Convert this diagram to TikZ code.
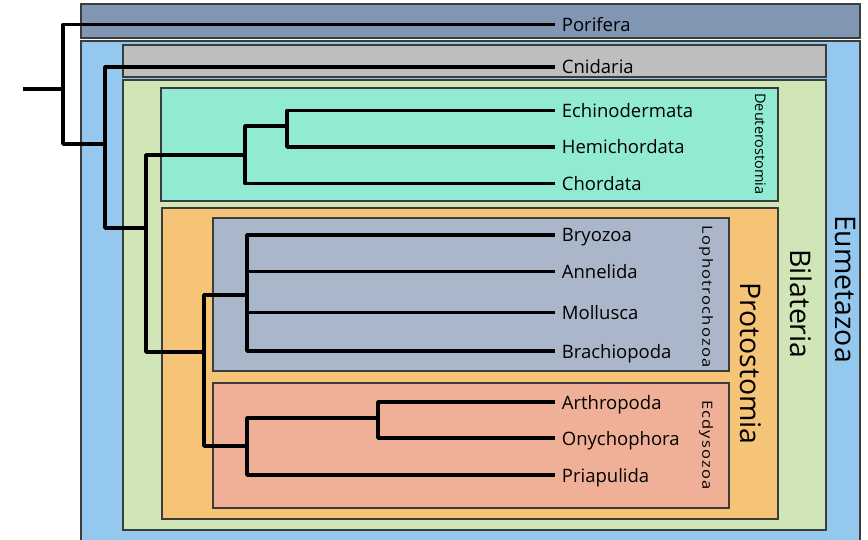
\documentclass[tikz,border=0pt]{standalone}
\usepackage{fontspec}
\setmainfont{Open Sans}
\newdimen\spreadamount \spreadamount=1pt
\makeatletter
\def\spreadword#1{\spreadword@i#1\@nil}
\def\spreadword@i#1{\ifx#1\@nil\unkern\else#1\kern\spreadamount\expandafter\spreadword@i\fi}
\makeatother
\definecolor{cPor}{HTML}{8096B2}
\definecolor{cEum}{HTML}{95C8EE}
\definecolor{cCni}{HTML}{BEBEBE}
\definecolor{cBil}{HTML}{D1E6B6}
\definecolor{cDeu}{HTML}{91EBD3}
\definecolor{cPro}{HTML}{F5C476}
\definecolor{cLop}{HTML}{AAB6CA}
\definecolor{cEcd}{HTML}{F0B097}
\definecolor{cEdge}{HTML}{3C3C3C}
\tikzset{
  box/.style={draw=cEdge, line width=1.4pt},
  branch/.style={draw=black, line width=3.4pt, line join=round},
  leaf/.style={anchor=west, font=\fontsize{18.5}{22}\selectfont, inner xsep=6.7pt, inner ysep=0pt, text height=14pt, text depth=0pt},
  grpsmall/.style={anchor=base, rotate=-90, inner sep=0pt, font=\fontsize{14}{16}\selectfont},
  grpbig/.style={anchor=base, rotate=-90, inner sep=0pt, font=\fontsize{28.4}{32}\selectfont},
}
\begin{document}
\begin{tikzpicture}[x=1pt,y=-1pt]
\useasboundingbox (0,0) rectangle (868,540);
% clade boxes
\draw[box, fill=cPor] (81,4) rectangle (860,38);
\draw[box, fill=cEum] (81,41) rectangle (860,546);
\draw[box, fill=cCni] (123,45) rectangle (826,77);
\draw[box, fill=cBil] (123,80) rectangle (826,530);
\draw[box, fill=cDeu] (161,88) rectangle (778,201);
\draw[box, fill=cPro] (162,208) rectangle (778,519);
\draw[box, fill=cLop] (213,218) rectangle (729,371);
\draw[box, fill=cEcd] (213,383) rectangle (729,508);
% leaves
\node[leaf] (por) at (555,24.5) {Porifera};
\node[leaf] (cni) at (555,67) {Cnidaria};
\node[leaf] (ech) at (555,110.5) {Echinodermata};
\node[leaf] (hem) at (555,147) {Hemichordata};
\node[leaf] (cho) at (555,183.5) {Chordata};
\node[leaf] (bry) at (555,235) {Bryozoa};
\node[leaf] (ann) at (555,271.5) {Annelida};
\node[leaf] (mol) at (555,312.5) {Mollusca};
\node[leaf] (bra) at (555,351) {Brachiopoda};
\node[leaf] (art) at (555,402) {Arthropoda};
\node[leaf] (ony) at (555,438) {Onychophora};
\node[leaf] (pri) at (555,475) {Priapulida};
% internal nodes
\coordinate (root) at (23,89);
\coordinate (n0) at (63,89);
\coordinate (n1) at (105,144);
\coordinate (n2) at (146,228);
\coordinate (deu) at (245,155);
\coordinate (deu2) at (287,126);
\coordinate (pro) at (204,352);
\coordinate (lop) at (247,295);
\coordinate (ecd) at (247,446);
\coordinate (ecd2) at (378,418);
% branches
\draw[branch] (root) -- (n0);
\draw[branch] (por.west) -| (n0) |- (n1);
\draw[branch] (cni.west) -| (n1) |- (n2);
\draw[branch] (deu) -| (n2) |- (pro);
\draw[branch] (ech.west) -| (deu2) |- (hem.west);
\draw[branch] (deu2) -| (deu) |- (cho.west);
\draw[branch] (bry.west) -| (lop) |- (bra.west);
\draw[branch] (ann.west) -- (ann.west -| lop);
\draw[branch] (mol.west) -- (mol.west -| lop);
\draw[branch] (lop) -| (pro) |- (ecd);
\draw[branch] (ecd2) -| (ecd) |- (pri.west);
\draw[branch] (art.west) -| (ecd2) |- (ony.west);
% group labels
\node[grpsmall, font=\fontsize{14.5}{16}\selectfont] (tDeu) at (755,144) {Deuterostomia};
\node[grpsmall] (tLop) at (702.3,296.7) {\scalebox{1.18}[1]{\spreadword{Lophotrochozoa}}};
\node[grpsmall] (tEcd) at (702.3,445) {\scalebox{1.18}[1]{\spreadword{Ecdysozoa}}};
\node[grpbig] (tPro) at (740.7,363.3) {Protostomia};
\node[grpbig] (tBil) at (790.7,304) {Bilateria};
\node[grpbig] (tEum) at (835,289) {Eumetazoa};
\end{tikzpicture}
\end{document}
